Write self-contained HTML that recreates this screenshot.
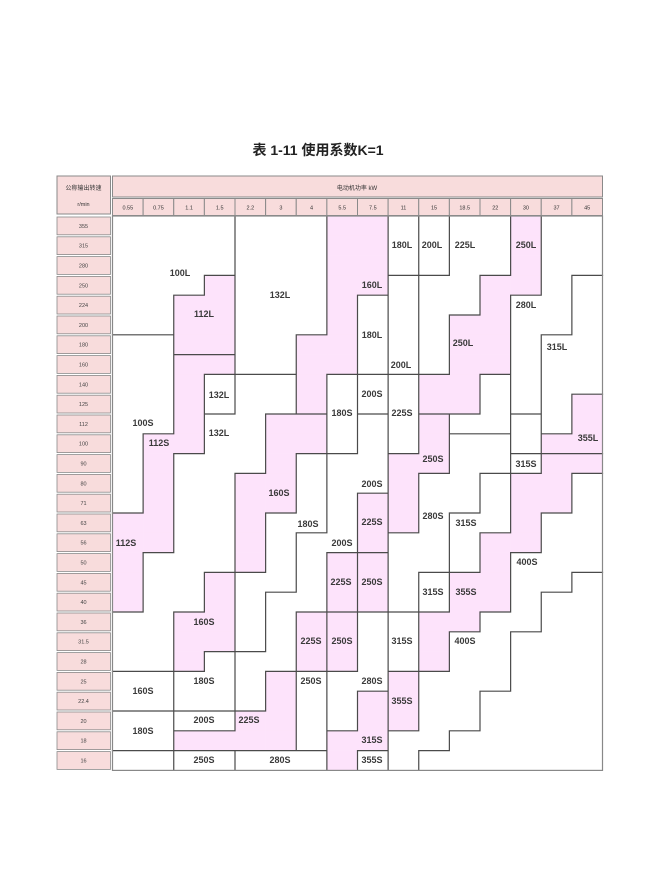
<!DOCTYPE html>
<html><head><meta charset="utf-8">
<style>
html,body{margin:0;padding:0;background:#fff;width:650px;height:887px;overflow:hidden}
svg{position:absolute;left:0;top:0}
</style></head><body>
<svg id="s" width="650" height="887" xmlns="http://www.w3.org/2000/svg" font-family="Liberation Sans, Noto Sans CJK SC, sans-serif">
<text x="318" y="155" text-anchor="middle" font-size="14" font-weight="bold" fill="#222" font-family="Liberation Sans, Noto Sans CJK SC, sans-serif">表 1-11 使用系数K=1</text>
</svg>
<script>
const X0=112.5,CW=30.625,Y0=216,RH=19.8,NC=16,NR=28;
const s=document.getElementById('s');
let out='';
const grid=[];for(let r=0;r<NR;r++){grid.push(new Array(NC).fill('?'));}
const pink=new Set();
function f(id,c1,c2,r1,r2){for(let r=r1;r<=r2;r++)for(let c=c1;c<=c2;c++)grid[r][c]=id;}
function P(id){pink.add(id);}
f('A',0,3,0,2);f('A',0,2,3,3);f('A',0,1,4,5);
f('P1',3,3,3,6);f('P1',2,2,4,6);P('P1');
f('B',4,6,0,5);f('B',4,5,6,7);
f('P2',7,7,0,7);f('P2',8,8,0,3);f('P2',6,6,6,9);P('P2');
f('C',9,9,0,2);f('D',10,10,0,2);
f('E',11,12,0,2);f('E',11,11,3,4);f('E',10,10,3,7);
f('F',8,8,4,7);f('G',9,9,3,7);
f('P3',13,13,0,3);f('P3',12,12,3,7);f('P3',11,11,5,9);f('P3',10,10,8,9);P('P3');
f('H',14,14,0,5);f('H',15,15,0,2);f('H',13,13,4,9);
f('O',15,15,3,8);f('O',14,14,6,10);
f('P4',15,15,9,11);f('P4',14,14,11,11);P('P4');
f('I',12,12,8,10);f('I',11,11,10,10);
f('J',13,13,10,11);
f('AS',0,1,6,10);f('AS',0,0,11,14);
f('P5',2,2,7,11);f('P5',3,3,7,7);f('P5',1,1,11,16);f('P5',0,0,15,19);P('P5');
f('BX',3,3,8,9);
f('T',4,4,8,12);f('T',5,5,8,9);f('T',3,3,10,17);f('T',2,2,12,19);f('T',1,1,17,22);f('T',0,0,20,22);
f('P6',5,6,10,11);f('P6',5,5,12,14);f('P6',4,4,13,17);P('P6');
f('U',3,3,18,21);f('U',2,2,20,22);P('U');
f('V',6,6,12,15);f('V',5,5,15,18);f('V',4,4,18,21);
f('W',7,7,12,16);f('W',8,8,10,13);f('W',6,6,16,19);f('W',5,5,19,22);f('W',4,4,22,24);
f('CB',7,7,8,11);f('DB',8,8,8,9);f('EB',9,9,8,11);
f('P7',10,10,10,12);f('P7',9,9,12,15);P('P7');
f('K',11,11,11,14);f('K',12,12,11,12);f('K',10,10,13,17);f('K',9,9,16,19);
f('M',13,13,12,12);
f('L',12,12,13,15);f('L',11,11,15,17);
f('N',10,10,18,19);f('N2',9,9,20,22);
f('P8',14,15,12,12);f('P8',14,14,13,14);f('P8',13,13,13,16);f('P8',12,12,16,19);f('P8',11,11,18,20);f('P8',10,10,20,22);P('P8');
f('Q',15,15,13,17);f('Q',14,14,15,18);f('Q',13,13,17,20);f('Q',12,12,20,23);f('Q',11,11,21,25);f('Q',10,10,23,26);f('Q',9,9,26,27);
f('R',15,15,18,27);f('R',14,14,19,27);f('R',13,13,21,27);f('R',12,12,24,27);f('R',11,11,26,27);f('R',10,10,27,27);
f('P9',8,8,14,16);P('P9');f('P10',8,8,17,19);P('P10');f('P11',7,7,17,19);P('P11');
f('P12',7,7,20,22);P('P12');f('P13',6,6,20,22);P('P13');
f('X',3,3,22,22);f('X',2,3,23,24);
f('Y1',0,1,23,24);f('Y2',0,1,25,26);f('Y3',2,3,25,25);
f('P14',2,3,26,26);f('P14',4,4,25,26);f('P14',5,5,23,26);P('P14');
f('Z',6,6,23,26);
f('S',8,8,20,23);f('S',7,7,23,25);
f('P15',8,8,24,26);f('P15',7,7,26,27);P('P15');
f('P16',9,9,23,25);P('P16');
f('BL',0,1,27,27);f('B2',2,3,27,27);f('B3',4,6,27,27);f('B4',8,8,27,27);
const x=c=>X0+c*CW, y=r=>Y0+r*RH;
// pink fills
for(let r=0;r<NR;r++)for(let c=0;c<NC;c++){if(pink.has(grid[r][c]))out+=`<rect x="${x(c)}" y="${y(r)}" width="${CW+0.3}" height="${RH+0.3}" fill="#fde3fb"/>`;}
// borders
let L='';
for(let r=0;r<NR;r++)for(let c=0;c<NC;c++){
 if(c<NC-1&&grid[r][c]!==grid[r][c+1])L+=`M${x(c+1)} ${y(r)}V${y(r+1)}`;
 if(r<NR-1&&grid[r][c]!==grid[r+1][c])L+=`M${x(c)} ${y(r+1)}H${x(c+1)}`;
}
out+=`<path d="${L}" stroke="#4a4a4a" stroke-width="1.2" fill="none" stroke-linecap="square"/>`;
out+=`<rect x="${X0}" y="${Y0}" width="${NC*CW}" height="${NR*RH}" fill="none" stroke="#888" stroke-width="1.2"/>`;
// header
const hp='#f8dcdc',hb='#8a8a8a';
out+=`<rect x="57" y="176" width="53.5" height="38" fill="${hp}" stroke="${hb}" stroke-width="1"/>`;
out+=`<text x="83.5" y="190" text-anchor="middle" font-size="6" fill="#333">公称输出转速</text>`;
out+=`<text x="83.5" y="206" text-anchor="middle" font-size="5.5" fill="#333">r/min</text>`;
out+=`<rect x="${X0}" y="176" width="${NC*CW}" height="21" fill="${hp}" stroke="${hb}" stroke-width="1"/>`;
out+=`<text x="357" y="190" text-anchor="middle" font-size="6" fill="#333">电动机功率 kW</text>`;
const kw=['0.55','0.75','1.1','1.5','2.2','3','4','5.5','7.5','11','15','18.5','22','30','37','45'];
kw.forEach((k,i)=>{out+=`<rect x="${x(i)}" y="198.5" width="${CW}" height="17" fill="${hp}" stroke="${hb}" stroke-width="1"/>`;
 out+=`<text x="${x(i)+CW/2}" y="209.5" text-anchor="middle" font-size="5.5" fill="#333">${k}</text>`;});
const rl=['355','315','280','250','224','200','180','160','140','125','112','100','90','80','71','63','56','50','45','40','36','31.5','28','25','22.4','20','18','16'];
rl.forEach((t,i)=>{out+=`<rect x="57" y="${y(i)+1}" width="53.5" height="${RH-2}" fill="${hp}" stroke="${hb}" stroke-width="0.8"/>`;
 out+=`<text x="83.5" y="${y(i)+RH/2+2}" text-anchor="middle" font-size="5.5" fill="#444">${t}</text>`;});
// labels
const labs=[['100L',180,273],['112L',204,314],['132L',280,295],['160L',372,285],['180L',402,245],['200L',432,245],['225L',465,245],['250L',526,245],['280L',526,305],['180L',372,335],['250L',463,343],['315L',557,347],['200L',401,365],['132L',219,395],['200S',372,394],['180S',342,413],['225S',402,413],['100S',143,423],['112S',159,443],['132L',219,433],['355L',588,438],['250S',433,459],['315S',526,464],['200S',372,484],['160S',279,493],['225S',372,522],['280S',433,516],['315S',466,523],['180S',308,524],['200S',342,543],['112S',126,543],['400S',527,562],['225S',341,582],['250S',372,582],['315S',433,592],['355S',466,592],['160S',204,622],['225S',311,641],['250S',342,641],['315S',402,641],['400S',465,641],['180S',204,681],['250S',311,681],['280S',372,681],['160S',143,691],['355S',402,701],['200S',204,720],['225S',249,720],['180S',143,731],['315S',372,740],['250S',204,760],['280S',280,760],['355S',372,760]];
labs.forEach(([t,a,b])=>{out+=`<text x="${a}" y="${b+3}" text-anchor="middle" font-size="9" font-weight="bold" fill="#3a3a3a">${t}</text>`;});
s.insertAdjacentHTML('beforeend',out);
</script>
</body></html>
